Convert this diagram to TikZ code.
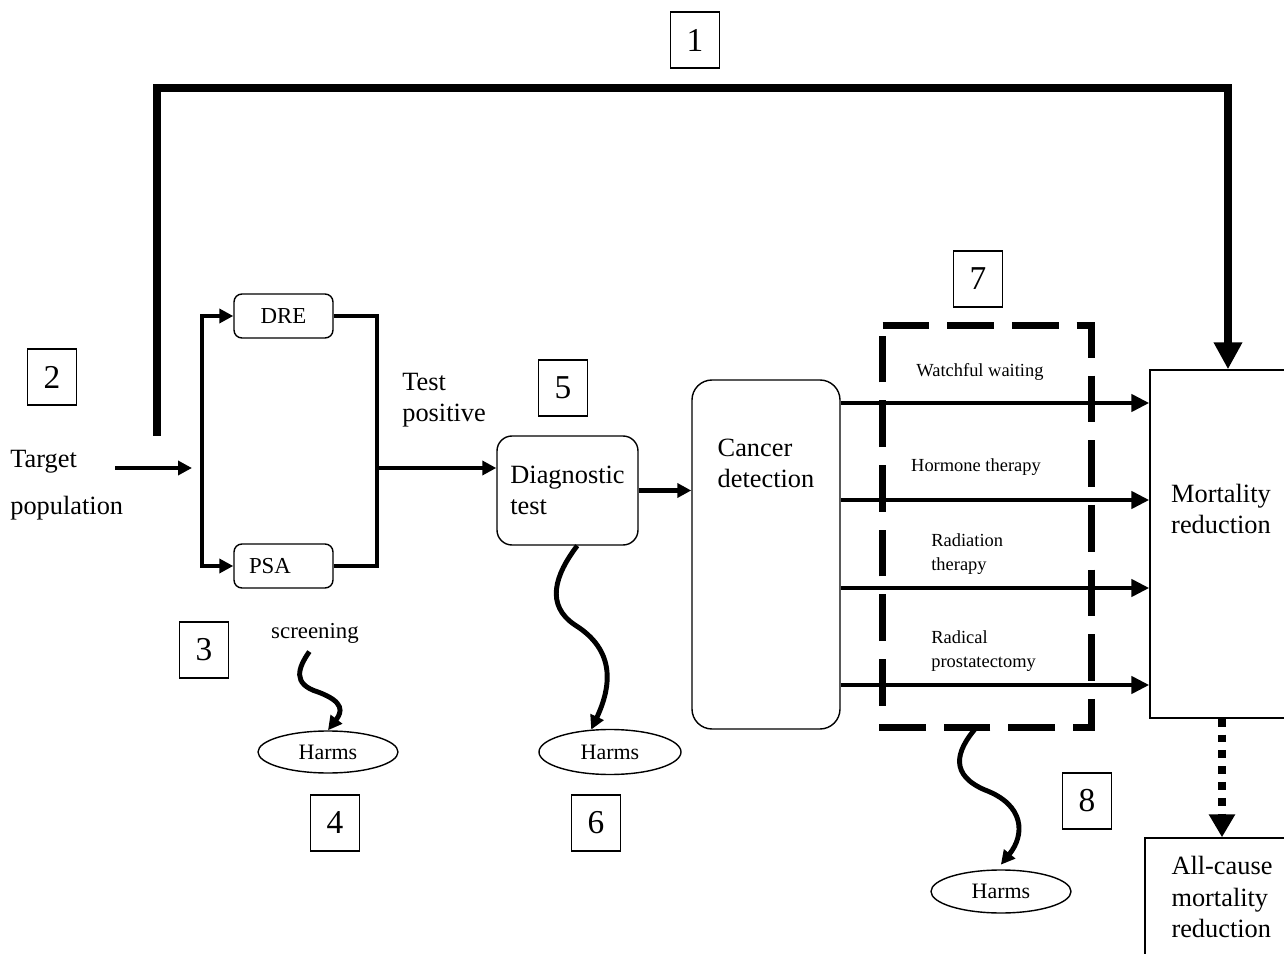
\documentclass[tikz,border=0pt]{standalone}
\usepackage{fontspec}
\setmainfont{Liberation Serif}
\usetikzlibrary{positioning, arrows.meta, shapes.geometric}
\tikzstyle{arr} = [line width=2.8pt,-{Triangle[length=2.8mm,width=2.8mm]}]
\tikzstyle{link} = [line width=2.8pt]

\begin{document}
\begin{tikzpicture}[x=0.2mm, y=-0.2mm]
    \tikzstyle{every node}=[inner sep=0pt]
    \tikzstyle{numbox} = [draw, line width=0.8pt, minimum width=9.8mm, minimum height=11.2mm, font=\fontsize{19}{19}\selectfont]
    \tikzstyle{bigtext} = [font=\fontsize{15}{18}\selectfont]
    \tikzstyle{smalltext} = [font=\fontsize{10.5}{13.6}\selectfont]
    \tikzstyle{testbox} = [draw, line width=0.8pt, rounded corners=1.6mm, minimum width=19.8mm, minimum height=8.8mm, text width=13.8mm, font=\fontsize{13}{13}\selectfont]
    \tikzstyle{bigbox} = [draw, line width=0.8pt]
    \tikzstyle{harms} = [ellipse, draw, line width=0.8pt, minimum width=28mm, minimum height=8.4mm, font=\fontsize{12.5}{12.5}\selectfont]
    \tikzstyle{wave} = [line width=2.8pt, -{Triangle[length=2.8mm,width=2.8mm]}]
    \tikzstyle{toparr} = [line width=4.3pt, -{Triangle[length=5.4mm,width=5.4mm]}]
    \tikzstyle{treatarr} = [line width=2.8pt, -{Triangle[length=3.6mm,width=3.4mm]}]
    \tikzstyle{dashbox} = [line width=4pt, dash pattern=on 26.6pt off 10.2pt, line join=miter]

    \useasboundingbox (0,0) rectangle (1284,954);
    \clip (0,0) rectangle (1284,954);

    % numbered boxes
    \node[numbox] (n1) at (695,40) {1};
    \node[numbox] (n2) at (52,377) {2};
    \node[numbox] (n3) at (204,650) {3};
    \node[numbox] (n4) at (335,823) {4};
    \node[numbox] (n5) at (563,388) {5};
    \node[numbox] (n6) at (596,823) {6};
    \node[numbox] (n7) at (978,279) {7};
    \node[numbox] (n8) at (1087,801) {8};

    % screening
    \node[bigtext, anchor=west, align=left, font=\fontsize{15}{26.6}\selectfont] (target) at (10,485) {Target\\population};
    \coordinate (tin) at (115,468);
    \coordinate (split) at (202,468);
    \node[testbox, align=center] (dre) at (283.5,316) {DRE};
    \node[testbox, align=left] (psa) at (283.5,566) {PSA};
    \coordinate (merge) at (377,468);
    \node[bigtext, anchor=west, align=left] (pos) at (402,400) {Test\\positive};

    \draw[arr] (tin) -- ([xshift=-2mm]split);
    \draw[arr] (split) |- (dre.west);
    \draw[arr] (split) |- (psa.west);
    \draw[link] (dre.east) -| (merge);
    \draw[link] (psa.east) -| (merge);

    % diagnosis
    \node[bigbox, bigtext, rounded corners=3mm, minimum width=28.2mm, minimum height=21.8mm, align=left] (diag) at (567.5,490.5) {Diagnostic\\test};
    \draw[arr] (merge) -- (merge -| diag.west);

    \node[bigbox, rounded corners=4mm, minimum width=29.6mm, minimum height=69.8mm,
          label={[bigtext, align=left, anchor=north, yshift=-11.8mm]north:Cancer\\detection}] (cancer) at (766,554.5) {};
    \draw[arr] (diag.east) -- (diag.east -| cancer.west);

    % treatments
    \node[minimum width=41.6mm, minimum height=80.2mm] (treat) at (987,526.5) {};
    \draw[dashbox] (treat.north west) -- (treat.north east) -- (treat.south east) -- (treat.south west) -- cycle;
    \node[bigbox, minimum width=31.2mm, minimum height=69.6mm,
          label={[bigtext, align=left, xshift=-1.4mm, yshift=7mm]center:Mortality\\reduction}] (mort) at (1228,544) {};
    \foreach \yy in {403,500,588,685}
        \draw[treatarr] (cancer.east |- 0,\yy) -- (mort.west |- 0,\yy);

    \node[smalltext] (ww) at (980,372) {Watchful waiting};
    \node[smalltext] (ht) at (976,467) {Hormone therapy};
    \node[smalltext, anchor=west, align=left] (rt) at (931,554) {Radiation\\therapy};
    \node[smalltext, anchor=west, align=left] (rp) at (931,651.5) {Radical\\prostatectomy};

    \node[bigbox, minimum width=30.8mm, minimum height=28.4mm,
          label={[bigtext, align=left, yshift=2.4mm]center:All-cause\\mortality\\reduction}] (allc) at (1222,909) {};
    \draw[line width=4.5pt, dash pattern=on 4.5pt off 4.5pt, -{Triangle[length=4.6mm,width=5mm]}] (allc.north |- mort.south) -- (allc.north);

    % direct path
    \coordinate (branch) at (157,436);
    \coordinate (topleft) at (157,88);
    \draw[toparr] (branch) -- (topleft) -| (mort.north);

    % harms
    \node[font=\fontsize{13}{13}\selectfont] (scr) at (315,633) {screening};
    \node[harms] (h1) at (328,752) {Harms};
    \node[harms, minimum width=28.4mm, minimum height=9mm] (h2) at (610,752) {Harms};
    \node[harms, minimum height=8.6mm] (h3) at (1001,891.5) {Harms};

    \draw[wave, shorten <=2mm] (scr.south) .. controls (298,668) and (292,684) .. (318,692) .. controls (345,702) and (342,712) .. (h1.north);
    \draw[wave] (diag.-80) .. controls (555,575) and (545,605) .. (575,625) .. controls (615,650) and (612,685) .. (h2.130);
    \draw[wave, shorten >=1.2mm] (treat.-93) .. controls (955,752) and (950,775) .. (985,790) .. controls (1025,805) and (1025,835) .. (h3.100);
\end{tikzpicture}
\end{document}
